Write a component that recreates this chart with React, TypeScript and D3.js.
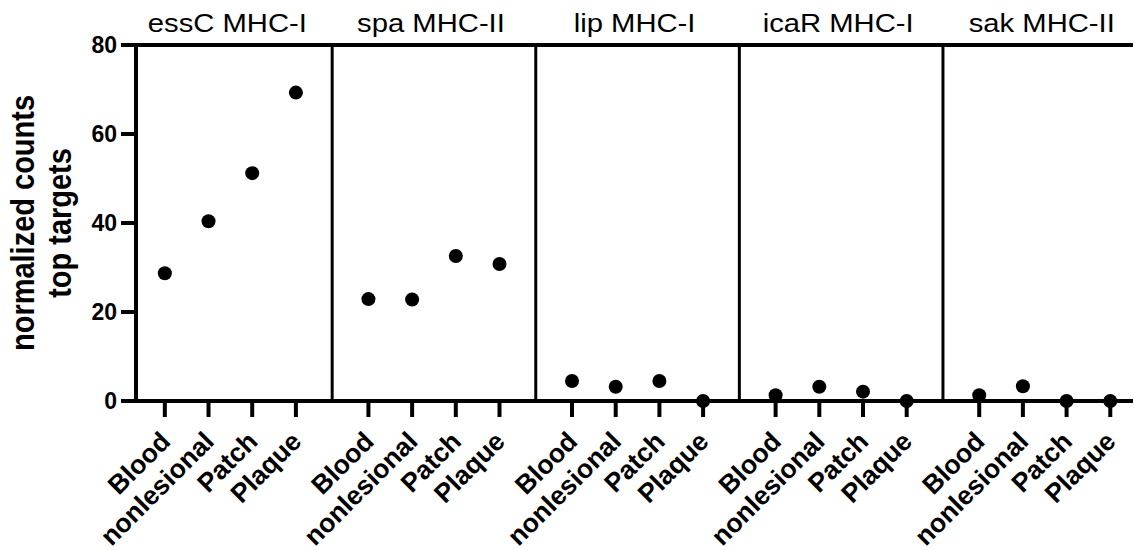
import React, { useEffect, useRef } from 'react';
import * as d3 from 'd3';

// panel titles (gene + MHC class)
const panels = ['essC MHC-I', 'spa MHC-II', 'lip MHC-I', 'icaR MHC-I', 'sak MHC-II'];
const groups = ['Blood', 'nonlesional', 'Patch', 'Plaque'];

// normalized counts, one array per panel, in the order of groups
const essC = [28.7, 40.4, 51.2, 69.3];
const spa = [22.9, 22.8, 32.6, 30.8];
const lip = [4.5, 3.2, 4.5, 0];
const icaR = [1.3, 3.2, 2.1, 0];
const sak = [1.3, 3.3, 0, 0];
const series = [essC, spa, lip, icaR, sak];

const yTicks = [0, 20, 40, 60, 80];

const W = 1134;
const H = 550;
const FONT = '"Liberation Sans", Arial, Helvetica, sans-serif';

export default function App() {
  const svgRef = useRef<SVGSVGElement>(null);

  useEffect(() => {
    if (!svgRef.current) return;
    const svg = d3.select(svgRef.current);
    svg.selectAll('*').remove();

    const left = 136;
    const right = 1133;
    const top = 45;
    const bottom = 401;

    // each panel takes 4.66 slots: 4 points + the gap to the next panel
    const step = 4.66;
    const slot = (p: number, k: number) => p * step + k;

    const x = d3.scaleLinear().domain([-0.66, slot(4, 3) + 0.52]).range([left, right]);
    const y = d3.scaleLinear().domain([0, 80]).range([bottom, top]);

    const g = svg.append('g');

    // frame: top line + panel dividers
    g.append('line')
      .attr('x1', left).attr('x2', right)
      .attr('y1', top).attr('y2', top)
      .attr('stroke', '#000').attr('stroke-width', 4);

    d3.range(1, panels.length).forEach(p => {
      const xd = x(slot(p, 0) - (step - 3) / 2);
      g.append('line')
        .attr('x1', xd).attr('x2', xd)
        .attr('y1', top).attr('y2', bottom)
        .attr('stroke', '#000').attr('stroke-width', 3);
    });

    // y axis
    g.append('line')
      .attr('x1', left).attr('x2', left)
      .attr('y1', top - 2).attr('y2', bottom + 2)
      .attr('stroke', '#000').attr('stroke-width', 4);

    yTicks.forEach(t => {
      g.append('line')
        .attr('x1', left - 15).attr('x2', left)
        .attr('y1', y(t)).attr('y2', y(t))
        .attr('stroke', '#000').attr('stroke-width', 4);
      g.append('text')
        .attr('x', left - 19)
        .attr('y', y(t))
        .attr('dy', '0.36em')
        .attr('text-anchor', 'end')
        .style('font-family', FONT)
        .style('font-weight', 'bold')
        .style('font-size', '23px')
        .text(t);
    });

    // y axis title (two lines), glyphs a bit wide like the original export
    const yMid = (top + bottom) / 2;
    [['normalized counts', 34], ['top targets', 71]].forEach(([txt, bx]) => {
      g.append('text')
        .attr('transform', `translate(${bx},${yMid}) scale(1.12,1) rotate(-90)`)
        .attr('text-anchor', 'middle')
        .style('font-family', FONT)
        .style('font-weight', 'bold')
        .style('font-size', '29px')
        .text(txt as string);
    });

    // x axis
    g.append('line')
      .attr('x1', left - 2).attr('x2', right)
      .attr('y1', bottom).attr('y2', bottom)
      .attr('stroke', '#000').attr('stroke-width', 4);

    panels.forEach((name, p) => {
      const cx = (x(slot(p, 0)) + x(slot(p, 3))) / 2;
      g.append('text')
        .attr('transform', `translate(${cx - 3},32) scale(1.17,1)`)
        .attr('text-anchor', 'middle')
        .style('font-family', FONT)
        .style('font-size', '25px')
        .text(name);

      groups.forEach((grp, k) => {
        const xt = x(slot(p, k));
        g.append('line')
          .attr('x1', xt).attr('x2', xt)
          .attr('y1', bottom).attr('y2', bottom + 16)
          .attr('stroke', '#000').attr('stroke-width', 4);
        g.append('text')
          .attr('transform', `translate(${xt + 7},${bottom + 42}) rotate(-45)`)
          .attr('text-anchor', 'end')
          .style('font-family', FONT)
          .style('font-weight', 'bold')
          .style('font-size', '26.5px')
          .text(grp);
      });

      // points
      g.selectAll(`.dot-${p}`)
        .data(series[p])
        .enter().append('circle')
        .attr('class', `dot-${p}`)
        .attr('cx', (d, k) => x(slot(p, k)))
        .attr('cy', d => y(d))
        .attr('r', 7)
        .attr('fill', '#000');
    });
  }, []);

  return (
    <svg
      ref={svgRef}
      width={W}
      height={H}
      style={{ position: 'absolute', left: 0, top: 0, background: '#fff' }}
    />
  );
}
